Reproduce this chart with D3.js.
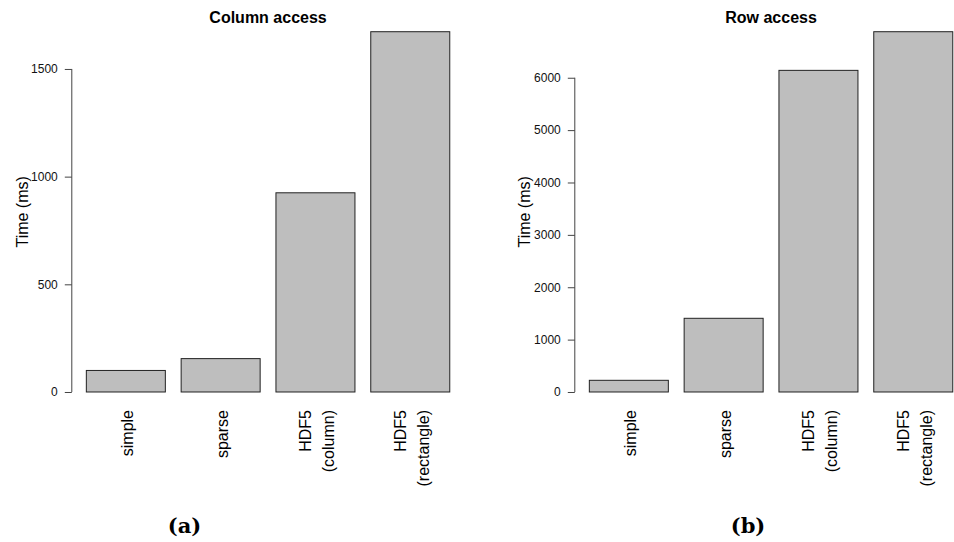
<!DOCTYPE html>
<html>
<head>
<meta charset="utf-8">
<script src="https://cdn.jsdelivr.net/npm/d3@7"></script>
<style>
  html, body { margin: 0; padding: 0; background: #fff; }
  svg { display: block; }
</style>
</head>
<body>
<svg id="chart" width="954" height="542"></svg>
<script>
// Access-time benchmark: four storage layouts, column vs row access
const categories = ["simple", "sparse", "HDF5\n(column)", "HDF5\n(rectangle)"];
const columnTimes = [100, 155, 925, 1673];
const rowTimes = [223, 1407, 6141, 6879];
const columnTicks = [0, 500, 1000, 1500];
const rowTicks = [0, 1000, 2000, 3000, 4000, 5000, 6000];

const panels = [
  { title: "Column access", values: columnTimes, ticks: columnTicks, left: 71.8, ylabX: 22, caption: "(a)", capX: 184.5 },
  { title: "Row access", values: rowTimes, ticks: rowTicks, left: 574.8, ylabX: 524.5, caption: "(b)", capX: 748 }
];

const svg = d3.select("#chart");
const plotW = 392.5, plotTop = 17.3, plotBottom = 406.4;
const sans = "'Liberation Sans', Arial, Helvetica, sans-serif";

panels.forEach(p => {
  const g = svg.append("g");
  const max = d3.max(p.values);

  const x = d3.scaleBand()
    .domain(categories)
    .range([p.left, p.left + plotW])
    .paddingInner(1 / 6)
    .paddingOuter(0.184 / 1.2);

  // value range padded by 4% on each side, as in the base barplot
  const y = d3.scaleLinear()
    .domain([-0.04 * max, 1.04 * max])
    .range([plotBottom, plotTop]);

  // bars
  g.selectAll("rect.bar")
    .data(p.values)
    .join("rect")
    .attr("class", "bar")
    .attr("x", (d, i) => x(categories[i]))
    .attr("width", x.bandwidth())
    .attr("y", d => y(d))
    .attr("height", d => y(0) - y(d))
    .attr("fill", "#bebebe")
    .attr("stroke", "#222")
    .attr("stroke-width", 1);

  // y axis
  const axis = d3.axisLeft(y)
    .tickValues(p.ticks)
    .tickSize(7)
    .tickPadding(7)
    .tickFormat(d3.format("d"));
  const ag = g.append("g")
    .attr("transform", `translate(${p.left},0)`)
    .call(axis);
  ag.select(".domain").remove();
  ag.append("line")
    .attr("x1", 0).attr("x2", 0)
    .attr("y1", y(d3.min(p.ticks))).attr("y2", y(d3.max(p.ticks)))
    .attr("stroke", "#444");
  ag.selectAll(".tick line").attr("stroke", "#444");
  ag.selectAll(".tick text")
    .attr("font-family", sans)
    .attr("font-size", 12)
    .attr("fill", "#111");

  // title
  g.append("text")
    .attr("x", p.left + plotW / 2)
    .attr("y", 23)
    .attr("text-anchor", "middle")
    .attr("font-family", sans)
    .attr("font-weight", "bold")
    .attr("font-size", 16)
    .attr("fill", "#000")
    .text(p.title);

  // y label
  g.append("text")
    .attr("transform", `translate(${p.ylabX},${(plotTop + plotBottom) / 2}) rotate(-90)`)
    .attr("text-anchor", "middle")
    .attr("dominant-baseline", "central")
    .attr("font-family", sans)
    .attr("font-size", 16)
    .attr("fill", "#000")
    .text("Time (ms)");

  // category labels, rotated
  categories.forEach(c => {
    const lines = c.split("\n");
    const cx = x(c) + x.bandwidth() / 2;
    lines.forEach((ln, j) => {
      const off = (j - (lines.length - 1) / 2) * 23 + 1.5;
      g.append("text")
        .attr("transform", `translate(${cx + off},410) rotate(-90)`)
        .attr("text-anchor", "end")
        .attr("dominant-baseline", "central")
        .attr("font-family", sans)
        .attr("font-size", 16)
        .attr("fill", "#000")
        .text(ln);
    });
  });

  // sub-caption
  svg.append("text")
    .attr("x", p.capX)
    .attr("y", 533)
    .attr("text-anchor", "middle")
    .attr("font-family", "'DejaVu Serif', 'Liberation Serif', serif")
    .attr("font-weight", "bold")
    .attr("font-size", 21)
    .attr("fill", "#000")
    .text(p.caption);
});
</script>
</body>
</html>
